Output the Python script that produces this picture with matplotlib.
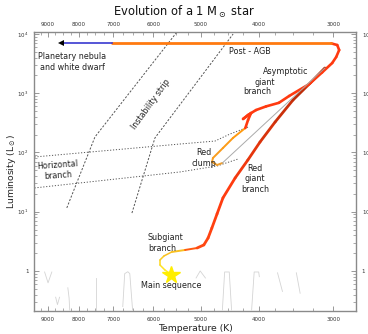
import numpy as np
import matplotlib
matplotlib.use("Agg")
import matplotlib.pyplot as plt
from matplotlib.collections import LineCollection
from matplotlib.colors import to_rgb
from matplotlib.ticker import FixedLocator, NullFormatter

# evolutionary track of a 1 solar mass star (temperature K, luminosity Lsun)
subgiant_T = [5610, 5740, 5850, 5850, 5760, 5590, 5310, 5070]
subgiant_L = [0.88, 1.04, 1.26, 1.53, 1.79, 2.09, 2.26, 2.44]

rgb_T = [5070, 4940, 4860, 4790, 4695, 4590, 4380, 4170, 3980, 3755, 3505, 3280, 3100]
rgb_L = [2.44, 2.75, 3.6, 5.3, 9.2, 17.1, 37.1, 74.7, 150, 327, 769, 1490, 2670]

flash_T = [3100, 4600]
flash_L = [2670, 66.5]

clump_T = [4600, 4695, 4787, 4770, 4590, 4416, 4211]
clump_L = [66.5, 61.5, 69.1, 80.8, 119, 176, 259]

agb_T = [4211, 4167, 4119, 4183, 4248, 4167, 4041, 3888, 3700, 3557, 3293, 3133, 3014, 2968, 2934, 2956, 3026]
agb_L = [259, 354, 464, 413, 368, 430, 521, 600, 690, 900, 1430, 2250, 3242, 4093, 5370, 6520, 6970]

post_agb_T = [3026, 7040]
post_agb_L = [6970, 6970]

pn_T = [7040, 8550]
pn_L = [6970, 6970]

# horizontal branch (dotted)
hb_upper_T = [9480, 5416, 4733, 4467, 4167]
hb_upper_L = [84, 139, 156, 205, 269]
hb_lower_T = [9480, 5416, 4695, 4330]
hb_lower_L = [25.2, 46.9, 59.2, 77.6]

# instability strip edges
is_left_T = [8373, 7513, 5480]
is_left_L = [11.6, 183, 10800]
is_right_T = [6516, 5964, 4414]
is_right_L = [9.5, 176, 10000]

sun_T, sun_L = 5610, 0.86

# faint background strokes near the bottom
faint_T = [[9120, 9000, 8870], [8340, 8300, 8280], [8740, 8680, 8610], [7470, 7470],
           [6750, 6700, 6620, 6570, 6500], [5590, 5550, 5510], [5090, 5010, 4910],
           [4600, 4560, 4480, 4440], [4110, 4070, 4000, 3990], [3720, 3650], [3460, 3410]]
faint_L = [[0.96, 0.63, 0.96], [0.52, 0.35, 0.22], [0.36, 0.27, 0.36], [0.76, 0.22],
           [0.25, 0.9, 0.97, 0.9, 0.22], [0.72, 0.93, 0.72], [0.76, 1.0, 0.76],
           [0.22, 0.96, 0.96, 0.22], [0.22, 0.96, 0.96, 0.8], [0.93, 0.45], [0.93, 0.42]]

xticks = [9000, 8000, 7000, 6000, 5000, 4000, 3000]
yticks = [1, 10, 100, 1000, 10000]
ylabels = ["1", "$10^{1}$", "$10^{2}$", "$10^{3}$", "$10^{4}$"]


def gradient_line(ax, T, L, c1, c2, lw, z=3):
    pts = np.column_stack([T, L])
    segs = np.stack([pts[:-1], pts[1:]], axis=1)
    a, b = np.array(to_rgb(c1)), np.array(to_rgb(c2))
    f = np.linspace(0, 1, len(segs))
    cols = [a + (b - a) * t for t in f]
    lc = LineCollection(segs, colors=cols, linewidths=lw, capstyle="round",
                        joinstyle="round", zorder=z)
    ax.add_collection(lc)


fig = plt.figure(figsize=(3.68, 3.34), dpi=100)
ax = fig.add_axes([0.0924, 0.069, 0.875, 0.835])
ax.set_xscale("log")
ax.set_yscale("log")
ax.set_xlim(9500, 2750)
ax.set_ylim(0.211, 10800)

for t, l in zip(faint_T, faint_L):
    ax.plot(t, l, color="#d4d4d4", lw=0.6, zorder=1)

dot = dict(color="#555555", lw=0.7, zorder=2)
ax.plot(hb_upper_T, hb_upper_L, linestyle=(0, (1.2, 1.8)), **dot)
ax.plot(hb_lower_T, hb_lower_L, linestyle=(0, (1.2, 1.8)), **dot)
ax.plot(is_left_T, is_left_L, linestyle=(0, (2.2, 1.6)), **dot)
ax.plot(is_right_T, is_right_L, linestyle=(0, (2.2, 1.6)), **dot)

ax.plot(flash_T, flash_L, color="#aaaaaa", lw=0.7, zorder=4)

gradient_line(ax, subgiant_T[:6], subgiant_L[:6], "#ffee22", "#f9c020", 1.1)
gradient_line(ax, subgiant_T[5:], subgiant_L[5:], "#f9c020", "#ff5a10", 1.4)
gradient_line(ax, rgb_T[:6], rgb_L[:6], "#ff4a12", "#ff3c10", 2.0)
gradient_line(ax, rgb_T[5:], rgb_L[5:], "#ff3c10", "#b02a08", 2.0)
gradient_line(ax, clump_T, clump_L, "#f0a030", "#ff9a10", 1.4)
gradient_line(ax, agb_T, agb_L, "#ff3a10", "#ff3a10", 1.9)
gradient_line(ax, post_agb_T, post_agb_L, "#ff7a10", "#ff8c20", 2.0, z=3)
ax.plot(pn_T, pn_L, color="#3838d0", lw=1.2, zorder=3)
ax.plot(pn_T[1], pn_L[1], marker="<", ms=4.5, color="black", mew=0, zorder=4)

ax.plot(sun_T, sun_L, marker="*", ms=13, color="#ffee00", mec="#ffee00", zorder=5)

txt = dict(fontsize=5.8, color="#222222")
fig_texts = [
    (72, 62, "Planetary nebula\nand white dwarf", "center", 0),
    (229, 52, "Post - AGB", "left", 0),
    (286, 72, "Asymptotic", "center", 0),
    (265, 82, "giant", "center", 0),
    (257, 91, "branch", "center", 0),
    (204, 158, "Red\nclump", "center", 0),
    (58, 170, "Horizontal\nbranch", "center", 4),
    (255, 179, "Red\ngiant\nbranch", "center", 0),
    (148, 243, "Subgiant\nbranch", "left", 0),
    (171, 285, "Main sequence", "center", 0),
    (151, 104, "Instability strip", "center", 54),
]
for px, py, s, ha, rot in fig_texts:
    fig.text(px / 368, 1 - py / 334, s, ha=ha, va="center", rotation=rot,
             rotation_mode="anchor", multialignment=ha, linespacing=1.2, **txt)

ax.xaxis.set_major_locator(FixedLocator(xticks))
ax.set_xticklabels([str(v) for v in xticks])
ax.xaxis.set_minor_locator(FixedLocator(np.arange(2750, 9600, 250)))
ax.xaxis.set_minor_formatter(NullFormatter())
ax.yaxis.set_major_locator(FixedLocator(yticks))
ax.set_yticklabels(ylabels)

ax.tick_params(which="both", direction="in", top=True, right=True,
               labeltop=True, labelright=True, colors="#888888",
               labelcolor="#333333", labelsize=4.0, pad=4)
ax.tick_params(which="major", length=3.5, width=0.6)
ax.tick_params(which="minor", length=2, width=0.5)
for sp in ax.spines.values():
    sp.set_color("#8a8a8a")
    sp.set_linewidth(1.0)

ax.set_xlabel("Temperature (K)", fontsize=6.7, color="#222222", labelpad=2)
ax.set_ylabel("Luminosity (L$_\\odot$)", fontsize=6.7, color="#222222")
ax.yaxis.set_label_coords(-0.05, 0.5)
fig.text(0.5, 1 - 12 / 334, "Evolution of a 1 M$_\\odot$ star", ha="center",
         va="center", fontsize=8.3, color="#111111")

fig.savefig("out.png", dpi=100)
